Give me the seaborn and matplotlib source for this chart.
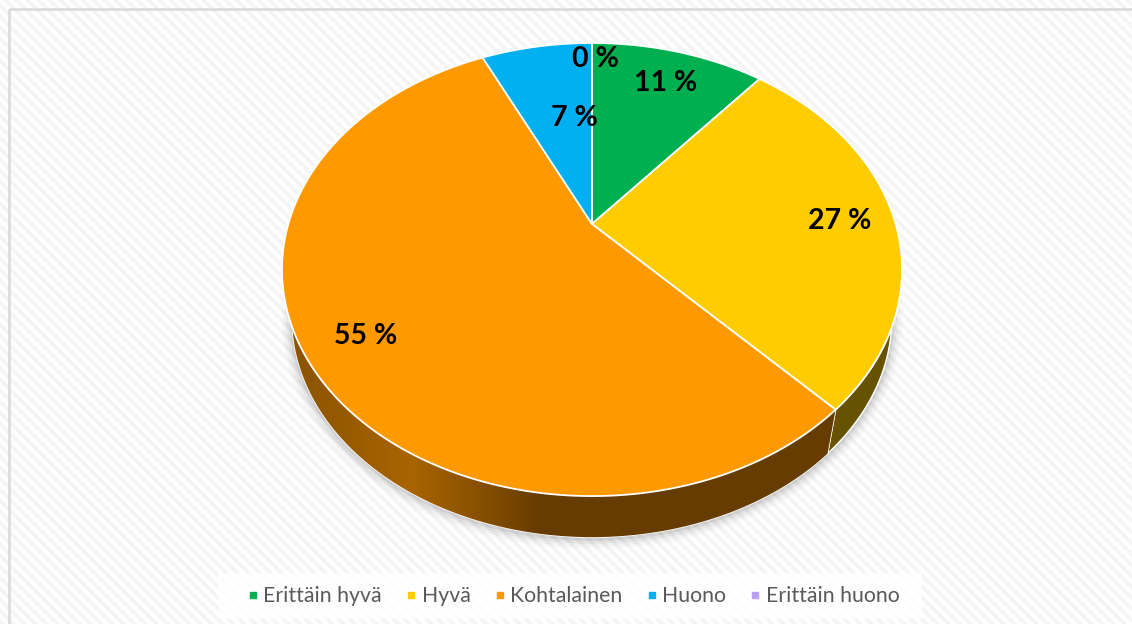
import matplotlib
matplotlib.use("Agg")
import matplotlib.pyplot as plt
import seaborn as sns
import numpy as np
from matplotlib.colors import to_rgb
from matplotlib.lines import Line2D
from matplotlib.patches import Polygon, Rectangle

categories = ["Erittäin hyvä", "Hyvä", "Kohtalainen", "Huono", "Erittäin huono"]
shares = [11, 27, 55, 7, 0]
colours = ["#00b050", "#ffcc00", "#ff9900", "#00b0f0", "#b9a0f0"]
wall_colours = ["#00693a", "#665200", "#663c00", "#006a90", "#6f6090"]

W, H = 1132, 624
# where the pie hub sits and how strong the tilt looks
hub_x, hub_y = 592, 224
A, B, tilt = 303.7, 217.4, 0.201
side_scale, side_drop = 0.967, 50


# tilted view of the flat pie, unit circle -> pixels
def project(pts):
    pts = np.asarray(pts)
    w = 1 + tilt * pts[:, 1]
    return np.column_stack([hub_x + A * pts[:, 0] / w, hub_y - B * pts[:, 1] / w])


# lower rim of the pie, slightly narrower than the top
def drop(pts):
    out = pts.copy()
    out[:, 0] = hub_x + (pts[:, 0] - hub_x) * side_scale
    out[:, 1] = hub_y + (pts[:, 1] - hub_y) * side_scale + side_drop
    return out


def rim(start, end):
    t = np.radians(np.linspace(start, end, 200))
    return project(np.column_stack([np.sin(t), np.cos(t)]))


sns.set_theme(style="white")
plt.rcParams["font.family"] = ["Lato", "DejaVu Sans"]

fig = plt.figure(figsize=(W / 100, H / 100), dpi=100)
ax = fig.add_axes([0, 0, 1, 1])

wedges, _, pct = ax.pie(shares, colors=sns.color_palette(colours), startangle=90, counterclock=False,
                        autopct=lambda p: "%.0f %%" % p, normalize=True)
ax.set_aspect("auto")

# striped background
yy, xx = np.mgrid[0:H, 0:W]
stripes = 0.978 + 0.022 * np.cos(2 * np.pi * (xx - yy) / 11)
ax.imshow(stripes, cmap="gray", vmin=0, vmax=1, extent=(0, W, H, 0), aspect="auto", zorder=0)
ax.add_patch(Rectangle((8.5, 8.5), W, H, fill=False, ec="#dcdcdc", lw=2, zorder=1))

# soft shadow under the pie
edges = np.cumsum([0] + shares) * 3.6
low = drop(rim(60, 300))
for lw, al in [(16, 0.02), (12, 0.03), (8, 0.05), (4, 0.07)]:
    ax.plot(low[:, 0], low[:, 1] + 1, color="black", lw=lw, alpha=al, zorder=2, solid_capstyle="round")

# side walls, only the part that faces us
for i, share in enumerate(shares):
    a, b = max(edges[i], 90), min(edges[i + 1], 270)
    if share == 0 or a >= b:
        continue
    top = rim(a, b)
    wall = Polygon(np.vstack([top, drop(top)[::-1]]), fc=wall_colours[i], ec="white", lw=1, zorder=3)
    ax.add_patch(wall)
    if categories[i] == "Kohtalainen":
        stops_x = [285, 330, 410, 470, 540, 840]
        stops_c = [to_rgb(c) for c in ["#8a5200", "#945800", "#a86400", "#8c5300", "#663c00", "#663c00"]]
        grad = np.column_stack([np.interp(np.arange(W), stops_x, [c[k] for c in stops_c]) for k in range(3)])
        im = ax.imshow(grad[None, :, :], extent=(0, W, H, 0), aspect="auto", zorder=3.1)
        im.set_clip_path(Polygon(wall.get_xy(), transform=ax.transData))

# top face: take the angles from the pie's wedges and tilt them
for w in wedges:
    if w.theta2 - w.theta1 > 0:
        # pie angles run from +x, the rim helper runs clockwise from the top
        outline = rim(90 - w.theta2, 90 - w.theta1)
        ax.add_patch(Polygon(np.vstack([[hub_x, hub_y], outline]), fc=w.get_facecolor(), ec="white",
                             lw=1.3, zorder=4))
    w.remove()

# labels, 7 % and 0 % were moved by hand in the original
label_uv = {3: (-0.066, 0.56), 4: (0.012, 0.915)}
mids = (edges[:-1] + edges[1:]) / 2
for i, t in enumerate(pct):
    uv = label_uv.get(i, (0.82 * np.sin(np.radians(mids[i])), 0.81 * np.cos(np.radians(mids[i]))))
    x, y = project([uv])[0]
    t.set_position((x, y + 3))
    t.set(fontsize=20.5, fontweight="bold", color="black", ha="center", va="center", zorder=6)

# legend
ax.add_patch(Rectangle((218, 573), 704, 46, fc="white", alpha=0.8, ec="none", zorder=5))
handles = [Line2D([], [], ls="none", marker="s", ms=5, color=c) for c in colours]
ax.legend(handles, categories, loc="center", bbox_to_anchor=(571, 596), bbox_transform=ax.transData, ncol=5,
          frameon=False, fontsize=15.3, labelcolor="#595959", handletextpad=0.0, columnspacing=0.87,
          handlelength=1.0).set_zorder(6)

ax.set_xlim(0, W)
ax.set_ylim(H, 0)
ax.axis("off")
fig.savefig("out.png", dpi=100)
